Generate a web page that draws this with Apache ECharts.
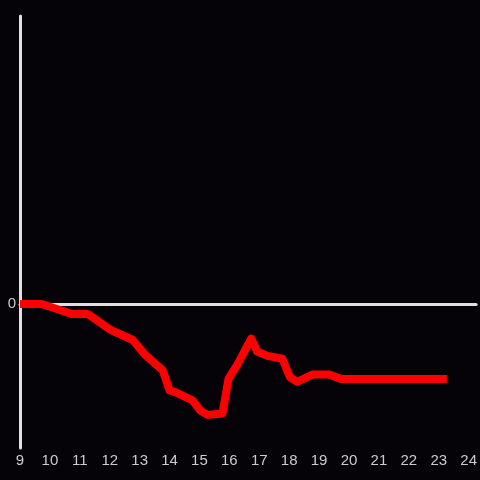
<!DOCTYPE html>
<html>
<head>
<meta charset="utf-8">
<script src="https://cdn.jsdelivr.net/npm/echarts@6/dist/echarts.min.js"></script>
<style>
html,body{margin:0;padding:0;background:#050308;}
#chart{width:480px;height:480px;}
</style>
</head>
<body>
<div id="chart"></div>
<script>
// time of day (hours)
var hours = [9.00, 9.73, 10.73, 11.27, 12.03, 12.77, 13.17, 13.77, 14.00, 14.17, 14.77, 15.03, 15.27, 15.77, 15.97, 16.27, 16.73, 16.93, 17.27, 17.77, 18.03, 18.27, 18.77, 19.33, 19.73, 23.27];
// values
var values = [0, 0, -7, -7, -18, -25, -35, -46, -60, -61, -67, -74, -77, -76, -52, -42, -24, -33, -36, -38, -51, -54, -49, -49, -52, -52];
var xTicks = [9,10,11,12,13,14,15,16,17,18,19,20,21,22,23,24];
var yTickLabels = ['0'];

var pts = hours.map(function(h, i){ return [h, values[i]]; });

var chart = echarts.init(document.getElementById('chart'));
chart.setOption({
  backgroundColor: '#050308',
  animation: false,
  grid: {left: 20, right: 0, top: 16, bottom: 32, containLabel: false},
  xAxis: [{
    type: 'value', min: 9, max: 24.25, interval: 1, position: 'bottom',
    axisLine: {show: false, onZero: false},
    axisTick: {show: false},
    splitLine: {show: false},
    axisLabel: {
      color: '#cccccc', fontSize: 15, fontFamily: 'Liberation Sans, Arial, sans-serif', margin: 5,
      formatter: function(v){ return xTicks.indexOf(Math.round(v*1000)/1000) >= 0 ? String(v) : ''; }
    }
  }, {
    type: 'value', min: 9, max: 24.25, interval: 1, position: 'top',
    axisLine: {show: true, onZero: true, lineStyle: {color: '#e0e0e0', width: 3}},
    axisTick: {show: false},
    axisLabel: {show: false},
    splitLine: {show: false}
  }],
  yAxis: {
    type: 'value', min: -100, max: 200, interval: 100,
    axisLine: {show: true, lineStyle: {color: '#e0e0e0', width: 3}},
    axisTick: {show: false},
    splitLine: {show: false},
    axisLabel: {
      color: '#cccccc', fontSize: 15, fontFamily: 'Liberation Sans, Arial, sans-serif', margin: 4,
      formatter: function(v){ return yTickLabels.indexOf(String(v)) >= 0 ? String(v) : ''; }
    }
  },
  series: [{
    type: 'line',
    data: pts,
    xAxisIndex: 0,
    showSymbol: false,
    symbol: 'none',
    lineStyle: {color: '#ff0000', width: 8, join: 'round', cap: 'butt'},
    z: 5
  }]
});
</script>
</body>
</html>
